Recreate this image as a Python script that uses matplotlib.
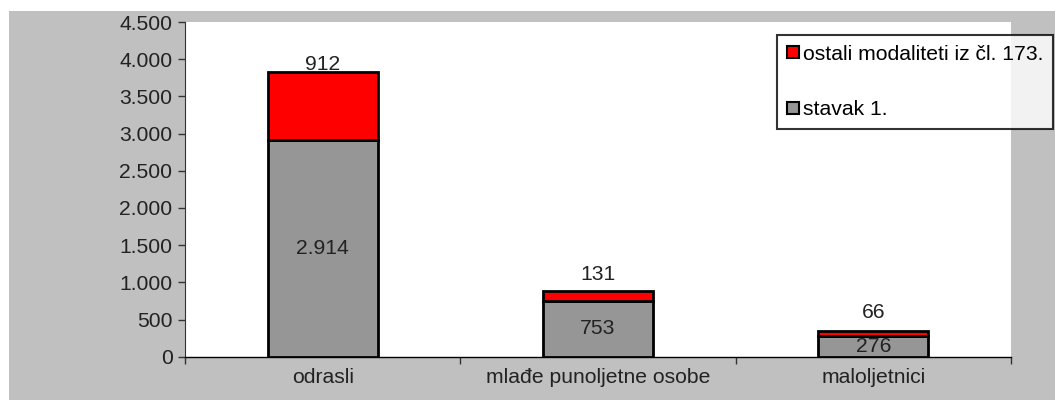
import matplotlib
matplotlib.use("Agg")
import matplotlib.pyplot as plt
from matplotlib.patches import Rectangle
from matplotlib.lines import Line2D
from matplotlib.ticker import FuncFormatter, FixedLocator

categories = ["odrasli", "mlađe punoljetne osobe", "maloljetnici"]
stavak = [2914, 753, 276]
ostali = [912, 131, 66]
series_names = ["stavak 1.", "ostali modaliteti iz čl. 173."]

plt.rcParams['font.family'] = ['Liberation Sans', 'DejaVu Sans']
FS = 15.2

fig = plt.figure(figsize=(10.55, 4.0), dpi=100)
fig.patch.set_facecolor("white")
fig.patches.append(Rectangle((9/1055, 0), 1 - 9/1055, (400-11)/400,
                             transform=fig.transFigure, facecolor="#C0C0C0",
                             edgecolor="none", zorder=-10))

ax = fig.add_axes([185/1055, (400-356.7)/400, (1011-185)/1055, (356.7-22)/400])
ax.set_facecolor("white")

x = list(range(len(categories)))
w = 0.40
gray = "#969696"
red = "#FF0000"
ax.bar(x, stavak, width=w, color=gray, edgecolor="black", linewidth=2, zorder=3)
ax.bar(x, ostali, width=w, bottom=stavak, color=red, edgecolor="black", linewidth=2, zorder=3)

def fmt(v, pos=None):
    return f"{int(v):,}".replace(",", ".")

for i in x:
    ax.text(i, stavak[i] / 2, fmt(stavak[i]), ha="center", va="center", fontsize=FS, color="#222222", zorder=5)
offsets = [-1, 5, 7]
for i in x:
    ax.annotate(fmt(ostali[i]), (i, stavak[i] + ostali[i]), xytext=(0, offsets[i]),
                textcoords="offset points", ha="center", va="bottom", fontsize=FS, color="#222222", zorder=5)

ax.set_xlim(-0.5, 2.5)
ax.set_ylim(0, 4500)
ax.yaxis.set_major_locator(FixedLocator(range(0, 4501, 500)))
ax.yaxis.set_major_formatter(FuncFormatter(fmt))
ax.set_xticks(x)
ax.set_xticklabels(categories)
ax.xaxis.set_minor_locator(FixedLocator([-0.5, 0.5, 1.5, 2.5]))
ax.tick_params(axis="x", which="major", length=0, pad=8, labelsize=FS, labelcolor="#222222")
ax.tick_params(axis="x", which="minor", length=5, width=1, direction="out", color="#333333")
ax.tick_params(axis="y", length=5, width=1, direction="out", labelsize=FS, labelcolor="#222222", color="#333333", pad=4)
for s in ["top", "right"]:
    ax.spines[s].set_visible(False)
ax.spines["left"].set_color("#333333")
ax.spines["bottom"].set_color("black")
ax.spines["bottom"].set_linewidth(1)

handles = [Line2D([], [], marker="s", linestyle="none", markersize=8, markerfacecolor=red,
                  markeredgecolor="black", markeredgewidth=1.5),
           Line2D([], [], marker="s", linestyle="none", markersize=8, markerfacecolor=gray,
                  markeredgecolor="black", markeredgewidth=1.5)]
leg = fig.legend(handles, [series_names[1], series_names[0]], loc="upper left",
                 bbox_to_anchor=(777/1055, (400-35)/400), bbox_transform=fig.transFigure,
                 frameon=True, fancybox=False, fontsize=FS, handlelength=0.6, handletextpad=0.2,
                 labelspacing=1.75, borderpad=0.45, borderaxespad=0)
leg.get_frame().set_edgecolor("black")
leg.get_frame().set_linewidth(1.5)
leg.get_frame().set_facecolor("white")

fig.savefig("out.png", dpi=100, facecolor=fig.get_facecolor())
